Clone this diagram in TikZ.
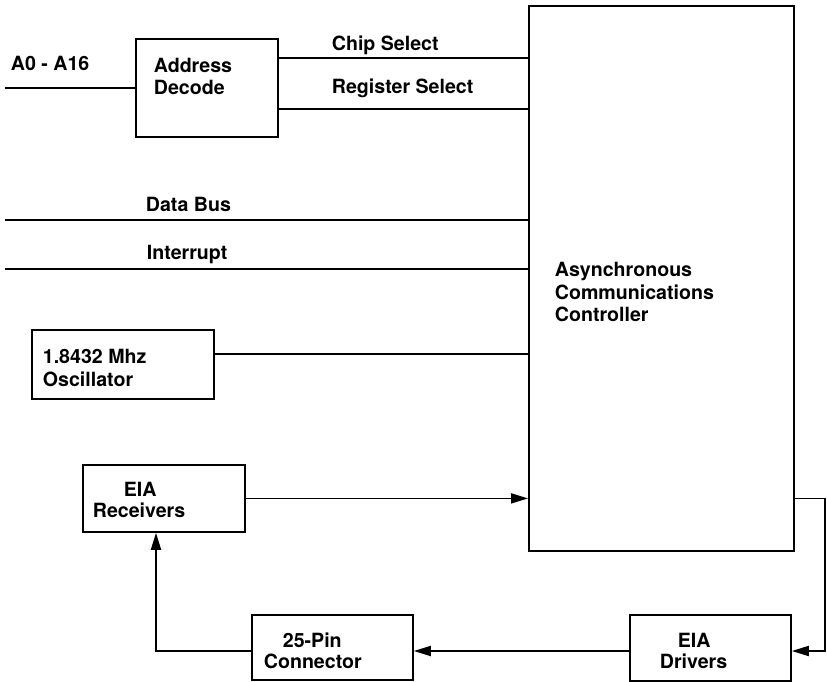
\documentclass[tikz,border=0pt]{standalone}
\usepackage{fontspec}
\setmainfont{TeX Gyre Heros}
\usetikzlibrary{arrows.meta,positioning}
\begin{document}
\begin{tikzpicture}[x=1pt, y=-1pt, line width=1.8pt, line join=miter, >={Triangle[length=17pt,width=10pt]},
	blok/.style={draw, rectangle, anchor=north west, inner sep=0pt},
	nhan/.style={anchor=base west, inner sep=0pt, font=\fontsize{19.6}{22}\selectfont\bfseries}]
	\useasboundingbox (0,0) rectangle (827,682);
	
	% Các khối
	\node[blok, minimum width=142pt, minimum height=98pt]  (adec) at (135,38)  {};
	\node[blok, minimum width=265pt, minimum height=545pt] (acc)  at (528,5)   {};
	\node[blok, minimum width=182pt, minimum height=69pt]  (osc)  at (31,329)  {};
	\node[blok, minimum width=162pt, minimum height=67pt]  (rcv)  at (82,464)  {};
	\node[blok, minimum width=161pt, minimum height=65pt]  (pin)  at (251,614) {};
	\node[blok, minimum width=161pt, minimum height=66pt]  (drv)  at (629,614) {};
	
	% Chữ trong khối
	\node[nhan] (adec1) at (153,73)  {Address};
	\node[nhan] (adec2) at (153,95)  {Decode};
	\node[nhan] (acc1)  at (554,276) {Asynchronous};
	\node[nhan] (acc2)  at (554,299) {Communications};
	\node[nhan] (acc3)  at (554,321) {Controller};
	\node[nhan] (osc1)  at (42,363)  {1.8432 Mhz};
	\node[nhan] (osc2)  at (42,386)  {Oscillator};
	\node[nhan] (rcv1)  at (123,496) {EIA};
	\node[nhan] (rcv2)  at (92,517)  {Receivers};
	\node[nhan] (pin1)  at (282,647) {25-Pin};
	\node[nhan] (pin2)  at (263,668) {Connector};
	\node[nhan] (drv1)  at (677,647) {EIA};
	\node[nhan] (drv2)  at (659,668) {Drivers};
	
	% Nhãn đường
	\node[nhan] (la0)  at (10,71)   {A0 - A16};
	\node[nhan] (lcs)  at (331,51)  {Chip Select};
	\node[nhan] (lrs)  at (331,94)  {Register Select};
	\node[nhan] (ldb)  at (145,211) {Data Bus};
	\node[nhan] (lint) at (146,259) {Interrupt};
	
	% Điểm mốc
	\coordinate (a0)   at (5,88);
	\coordinate (cs)   at (277,58);
	\coordinate (rs)   at (277,109);
	\coordinate (db)   at (5,220);
	\coordinate (intr) at (5,269);
	\coordinate (clk)  at (213,354);
	\coordinate (vong) at (825,651);
	\coordinate (ve)   at (156,651);
	
	% Đường nối
	\draw (a0) -- (a0 -| adec.west);
	\draw (cs) -- (cs -| acc.west);
	\draw (rs) -- (rs -| acc.west);
	\draw (db) -- (db -| acc.west);
	\draw (intr) -- (intr -| acc.west);
	\draw (clk) -- (clk -| acc.west);
	\draw[->] (rcv.east) -- (rcv.east -| acc.west);
	\draw[->] (acc.east |- rcv.east) -- (vong |- rcv.east) -- (vong) -- (vong -| drv.east);
	\draw[->] (vong -| drv.west) -- (vong -| pin.east);
	\draw[->] (ve -| pin.west) -- (ve) -- (ve |- rcv.south);
\end{tikzpicture}
\end{document}
